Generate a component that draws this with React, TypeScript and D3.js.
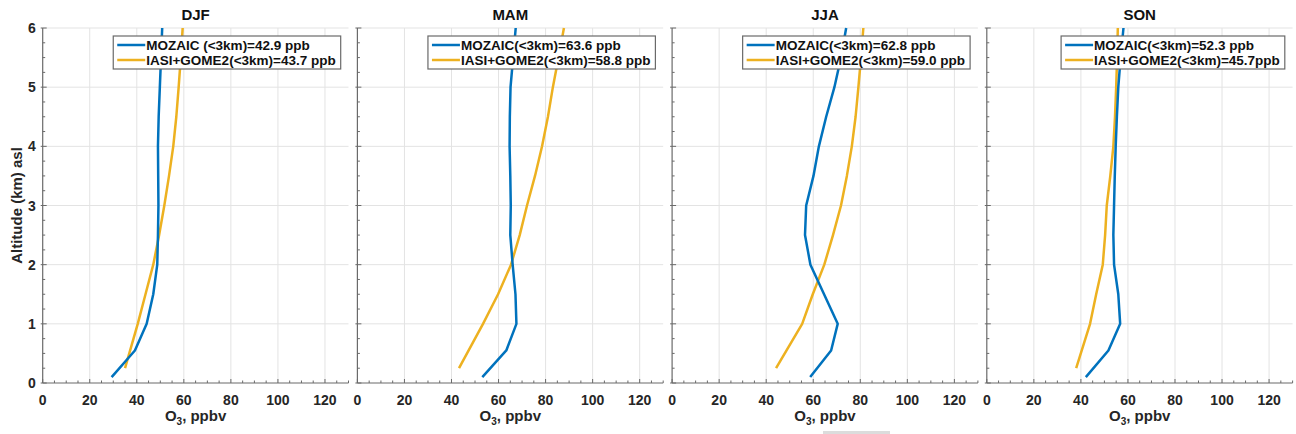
import React, { useEffect, useRef } from 'react';
import * as d3 from 'd3';

const seasons = ['DJF', 'MAM', 'JJA', 'SON'];

const mozaicAlt = [0.1, 0.55, 1, 1.5, 2, 2.5, 3, 3.5, 4, 4.5, 5, 5.5, 6];
const satAlt = [0.25, 1, 1.5, 2, 2.5, 3, 3.5, 4, 4.5, 5, 5.5, 6];

const mozaicDJF = [29.3, 39.2, 44.2, 47.0, 48.7, 49.0, 49.2, 49.1, 49.0, 49.3, 49.8, 50.3, 50.8];
const mozaicMAM = [53.1, 63.3, 67.6, 67.2, 66.0, 65.0, 65.2, 65.0, 64.7, 64.8, 65.1, 66.2, 67.3];
const mozaicJJA = [58.7, 67.6, 70.4, 64.6, 58.8, 56.5, 57.0, 60.1, 62.4, 65.5, 69.0, 71.8, 74.0];
const mozaicSON = [42.1, 51.7, 56.7, 55.9, 54.1, 53.8, 54.1, 54.4, 54.8, 55.3, 55.9, 56.9, 58.1];

const satDJF = [35.0, 40.4, 43.7, 47.0, 49.5, 51.7, 53.7, 55.5, 56.8, 57.8, 58.7, 59.5];
const satMAM = [43.2, 53.4, 59.8, 65.3, 69.0, 72.1, 75.5, 78.5, 81.0, 83.1, 85.5, 87.8];
const satJJA = [44.2, 55.3, 59.8, 64.7, 68.4, 71.8, 74.3, 76.4, 78.0, 79.2, 80.3, 81.3];
const satSON = [38.0, 43.9, 46.5, 49.3, 50.3, 51.0, 52.5, 53.8, 54.5, 55.0, 55.4, 55.7];

const mozaicSeries = [mozaicDJF, mozaicMAM, mozaicJJA, mozaicSON];
const satSeries = [satDJF, satMAM, satJJA, satSON];

const legendMozaic = [
  'MOZAIC (<3km)=42.9 ppb',
  'MOZAIC(<3km)=63.6 ppb',
  'MOZAIC(<3km)=62.8 ppb',
  'MOZAIC(<3km)=52.3 ppb',
];
const legendSat = [
  'IASI+GOME2(<3km)=43.7 ppb',
  'IASI+GOME2(<3km)=58.8 ppb',
  'IASI+GOME2(<3km)=59.0 ppb',
  'IASI+GOME2(<3km)=45.7ppb',
];

const xTicks = [0, 20, 40, 60, 80, 100, 120];
const yTicks = [0, 1, 2, 3, 4, 5, 6];

const BLUE = '#0072BD';
const ORANGE = '#EDB120';
const FONT = 'Arial, "Liberation Sans", Helvetica, sans-serif';

export default function App() {
  const ref = useRef<SVGSVGElement | null>(null);

  useEffect(() => {
    const svg = d3.select(ref.current);
    svg.selectAll('*').remove();

    const W = 1296;
    const H = 434;
    const top = 28;
    const bottom = 383;
    const panelW = 305.8;
    const lefts = seasons.map((_, i) => 42.7 + i * 314.7);

    svg.append('rect').attr('width', W).attr('height', H).attr('fill', '#fff');

    const y = d3.scaleLinear().domain([0, 6]).range([bottom, top]);
    const minorX = d3.range(0, 131, 5);
    const minorY = d3.range(0, 6.01, 0.25);

    seasons.forEach((season, i) => {
      const left = lefts[i];
      const x = d3.scaleLinear().domain([0, 130]).range([left, left + panelW]);
      const g = svg.append('g');

      // grid
      g.selectAll('.vg')
        .data(xTicks.filter((t) => t > 0))
        .enter()
        .append('line')
        .attr('x1', (d) => x(d))
        .attr('x2', (d) => x(d))
        .attr('y1', top)
        .attr('y2', bottom)
        .attr('stroke', '#e3e3e3')
        .attr('stroke-width', 1);
      g.selectAll('.hg')
        .data(yTicks.filter((t) => t > 0))
        .enter()
        .append('line')
        .attr('x1', left)
        .attr('x2', left + panelW)
        .attr('y1', (d) => y(d))
        .attr('y2', (d) => y(d))
        .attr('stroke', '#e3e3e3')
        .attr('stroke-width', 1);

      // lines
      const lineM = d3
        .line<number>()
        .x((d) => x(d))
        .y((_, k) => y(mozaicAlt[k]));
      const lineS = d3
        .line<number>()
        .x((d) => x(d))
        .y((_, k) => y(satAlt[k]));

      g.append('path')
        .attr('d', lineS(satSeries[i]) as string)
        .attr('fill', 'none')
        .attr('stroke', ORANGE)
        .attr('stroke-width', 2.5)
        .attr('stroke-linejoin', 'round');
      g.append('path')
        .attr('d', lineM(mozaicSeries[i]) as string)
        .attr('fill', 'none')
        .attr('stroke', BLUE)
        .attr('stroke-width', 2.5)
        .attr('stroke-linejoin', 'round');

      // axes
      const axisColor = '#6a6a6a';
      g.append('line')
        .attr('x1', left)
        .attr('x2', left + panelW)
        .attr('y1', bottom)
        .attr('y2', bottom)
        .attr('stroke', axisColor)
        .attr('stroke-width', 1.2);
      g.append('line')
        .attr('x1', left)
        .attr('x2', left)
        .attr('y1', top)
        .attr('y2', bottom)
        .attr('stroke', axisColor)
        .attr('stroke-width', 1.2);

      g.selectAll('.mx')
        .data(minorX)
        .enter()
        .append('line')
        .attr('x1', (d) => x(d))
        .attr('x2', (d) => x(d))
        .attr('y1', bottom)
        .attr('y2', (d) => bottom - (d % 20 === 0 ? 4 : 2.5))
        .attr('stroke', axisColor);
      g.selectAll('.my')
        .data(minorY)
        .enter()
        .append('line')
        .attr('x1', (d) => left - (Math.abs(d - Math.round(d)) < 1e-6 ? 2 : 0))
        .attr('x2', (d) => left + (Math.abs(d - Math.round(d)) < 1e-6 ? 4 : 2.5))
        .attr('y1', (d) => y(d))
        .attr('y2', (d) => y(d))
        .attr('stroke', axisColor);

      // tick labels
      g.selectAll('.xl')
        .data(xTicks)
        .enter()
        .append('text')
        .attr('x', (d) => x(d))
        .attr('y', 405)
        .attr('text-anchor', 'middle')
        .attr('font-family', FONT)
        .attr('font-weight', 'bold')
        .attr('font-size', 14)
        .attr('fill', '#262626')
        .text((d) => String(d));

      if (i === 0) {
        g.selectAll('.yl')
          .data(yTicks)
          .enter()
          .append('text')
          .attr('x', left - 7)
          .attr('y', (d) => y(d) + 5)
          .attr('text-anchor', 'end')
          .attr('font-family', FONT)
          .attr('font-weight', 'bold')
          .attr('font-size', 14)
          .attr('fill', '#262626')
          .text((d) => String(d));

        g.append('text')
          .attr('transform', `translate(22,${(top + bottom) / 2}) rotate(-90)`)
          .attr('text-anchor', 'middle')
          .attr('font-family', FONT)
          .attr('font-weight', 'bold')
          .attr('font-size', 15)
          .attr('fill', '#262626')
          .text('Altitude (km) asl');
      }

      // title
      g.append('text')
        .attr('x', left + panelW / 2)
        .attr('y', 20)
        .attr('text-anchor', 'middle')
        .attr('font-family', FONT)
        .attr('font-weight', 'bold')
        .attr('font-size', 15)
        .attr('fill', '#111')
        .text(season);

      // x label
      const xl = g
        .append('text')
        .attr('x', left + panelW / 2)
        .attr('y', 421)
        .attr('text-anchor', 'middle')
        .attr('font-family', FONT)
        .attr('font-weight', 'bold')
        .attr('font-size', 15)
        .attr('fill', '#262626');
      xl.append('tspan').text('O');
      xl.append('tspan').attr('font-size', 10).attr('dy', 4).text('3');
      xl.append('tspan').attr('dy', -4).text(', ppbv');

      // legend
      const leg = g.append('g');
      const rows = [
        { label: legendMozaic[i], color: BLUE },
        { label: legendSat[i], color: ORANGE },
      ];
      const texts = rows.map((r, k) =>
        leg
          .append('text')
          .attr('y', 50 + k * 15)
          .attr('font-family', FONT)
          .attr('font-weight', 'bold')
          .attr('font-size', 13.5)
          .attr('fill', '#111')
          .text(r.label)
      );
      const maxW = d3.max(texts, (t) => (t.node() as SVGTextElement).getComputedTextLength()) || 190;
      const boxRight = left + 298;
      const boxW = 34 + maxW + 4;
      const boxLeft = boxRight - boxW;
      leg
        .insert('rect', 'text')
        .attr('x', boxLeft)
        .attr('y', 36)
        .attr('width', boxW)
        .attr('height', 33)
        .attr('fill', '#fff')
        .attr('stroke', '#6a6a6a')
        .attr('stroke-width', 1.2);
      texts.forEach((t) => t.attr('x', boxLeft + 33));
      rows.forEach((r, k) => {
        leg
          .append('line')
          .attr('x1', boxLeft + 4)
          .attr('x2', boxLeft + 32)
          .attr('y1', 45 + k * 15)
          .attr('y2', 45 + k * 15)
          .attr('stroke', r.color)
          .attr('stroke-width', 2.5);
      });
    });

    // faint grey strip at bottom of the figure
    svg.append('rect').attr('x', 823).attr('y', 431).attr('width', 67).attr('height', 3).attr('fill', '#dcdcdc');
  }, []);

  return (
    <svg
      ref={ref}
      width={1296}
      height={434}
      style={{ position: 'absolute', left: 0, top: 0, display: 'block' }}
    />
  );
}
